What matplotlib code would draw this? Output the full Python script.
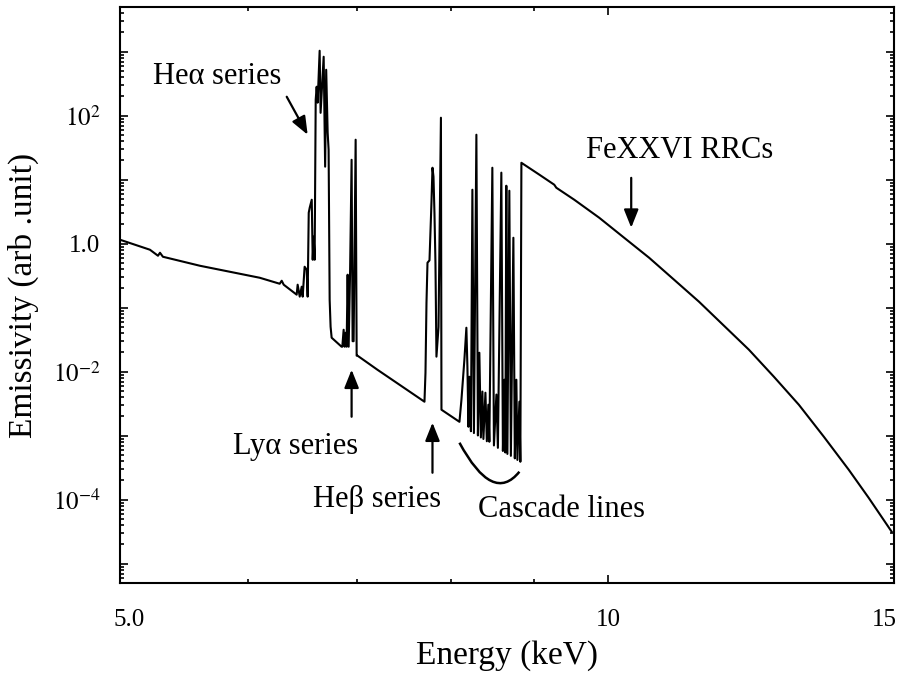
import numpy as np
import matplotlib
matplotlib.use("Agg")
import matplotlib.pyplot as plt
import matplotlib.transforms as mtransforms
from matplotlib.path import Path
from matplotlib.patches import PathPatch
from matplotlib.ticker import FixedLocator, NullFormatter, LogLocator

plt.rcParams['font.family'] = ['Liberation Serif', 'DejaVu Serif']
plt.rcParams['mathtext.fontset'] = 'stix'

# ---- spectrum vertices: energy (keV), emissivity (arb. unit) ----
# continuum below the He-like lines
e_low = [5.000, 5.217, 5.277, 5.292, 5.314, 5.600, 6.011, 6.097, 6.272, 6.290,
         6.308, 6.425, 6.434, 6.453, 6.471, 6.480, 6.498, 6.517, 6.526]
v_low = [1.155, 0.806, 0.649, 0.723, 0.626, 0.453, 0.316, 0.294, 0.237, 0.264,
         0.229, 0.160, 0.229, 0.149, 0.213, 0.149, 0.437, 0.392, 0.149]

# He-alpha complex
e_hea = [6.536, 6.545, 6.564, 6.573, 6.582, 6.591, 6.601, 6.610, 6.619, 6.638,
         6.647, 6.676, 6.690, 6.700, 6.714, 6.723, 6.733, 6.742, 6.752, 6.848]
v_hea = [3.05, 3.65, 4.87, 0.562, 1.29, 0.562, 178, 284, 160, 1036,
         111, 835, 16.0, 523, 54.2, 29.4, 0.133, 0.0505, 0.034, 0.0246]

# Ly-alpha complex and continuum up to He-beta
e_lya = [6.855, 6.868, 6.878, 6.890, 6.897, 6.907, 6.917, 6.931, 6.946, 6.956,
         6.966, 6.986, 6.996, 7.005, 7.207, 7.435, 7.703]
v_lya = [0.0246, 0.0453, 0.0246, 0.0407, 0.0246, 0.328, 0.0246, 0.352, 20.5, 0.03,
         0.03, 42.2, 0.0178, 0.0178, 0.0107, 0.00626, 0.0034]

# He-beta complex
e_heb = [7.714, 7.725, 7.736, 7.758, 7.780, 7.791, 7.802, 7.813, 7.824, 7.835,
         7.858, 7.885, 7.891, 8.095]
v_heb = [0.00964, 0.120, 0.505, 0.55, 4.5, 15.4, 11.2, 3.0, 0.5, 0.0172,
         0.05, 93.1, 0.00255, 0.00165]

# cascade lines
e_cas = [8.118, 8.152, 8.175, 8.187, 8.199, 8.210, 8.228, 8.245, 8.263, 8.292,
         8.310, 8.327, 8.345, 8.363, 8.375, 8.399, 8.416, 8.434, 8.446, 8.482,
         8.501, 8.531, 8.549, 8.591, 8.610, 8.628, 8.640, 8.652, 8.665, 8.689,
         8.708, 8.739, 8.757, 8.776, 8.789, 8.814, 8.826]
v_cas = [0.00365, 0.0154, 0.0487, 0.012, 0.00138, 0.00835, 0.001175, 6.98, 0.0011, 50.5,
         0.00101, 0.0198, 0.00094, 0.0049, 0.00089, 0.0047, 0.00082, 0.00305, 0.000805, 15.4,
         0.000705, 0.0044, 0.000647, 12.9, 0.000578, 0.0075, 0.000547, 8.06, 0.00052, 6.73,
         0.000485, 1.24, 0.000443, 0.0075, 0.000419, 0.0034, 0.000392]

# radiative recombination continuum
e_rrc = [8.839, 9.067, 9.261, 9.288, 9.528, 9.871, 10.227, 10.596, 10.978, 11.374,
         11.784, 12.208, 12.649, 13.105, 13.578, 14.067, 14.471, 14.951]
v_rrc = [18.4, 12.0, 8.36, 7.5, 4.87, 2.55, 1.24, 0.604, 0.274, 0.124,
         0.0523, 0.0221, 0.00835, 0.00305, 9.65e-4, 2.94e-4, 1.07e-4, 3.16e-5]

energy = np.array(e_low + e_hea + e_lya + e_heb + e_cas + e_rrc)
emis = np.array(v_low + v_hea + v_lya + v_heb + v_cas + v_rrc)

fig = plt.figure(figsize=(9.01, 6.79), dpi=100)
ax = fig.add_axes([120 / 901, 1 - 583 / 679, 774 / 901, 576 / 679])

ax.plot(energy, emis, color='black', lw=1.5)

ax.set_xscale('log')
ax.set_yscale('log')
ax.set_xlim(5, 15)
ax.set_ylim(5e-6, 5e3)

ax.xaxis.set_major_locator(FixedLocator([5, 10, 15]))
ax.xaxis.set_minor_locator(FixedLocator([6, 7, 8, 9]))
ax.set_xticklabels(['5.0', '10', '15'])
ax.xaxis.set_minor_formatter(NullFormatter())

ax.yaxis.set_major_locator(FixedLocator([10.0 ** k for k in range(-5, 4)]))
ax.yaxis.set_minor_locator(LogLocator(base=10, subs=np.arange(2, 10), numticks=20))
ax.yaxis.set_minor_formatter(NullFormatter())
ylabels = {1e2: r'$10^{2}$', 1.0: '1.0', 1e-2: r'$10^{-2}$', 1e-4: r'$10^{-4}$'}
ax.set_yticklabels([ylabels.get(10.0 ** k, '') for k in range(-5, 4)])

ax.tick_params(which='both', direction='in', top=True, right=True, width=1.2,
               labelsize=18)
ax.tick_params(which='major', length=6)
ax.tick_params(which='minor', length=3)
ax.tick_params(axis='x', which='major', pad=19)
ax.tick_params(axis='y', which='major', pad=14)
for sp in ax.spines.values():
    sp.set_linewidth(1.5)

# keep the end labels inside the figure
xt = ax.get_xticklabels()
xt[0].set_horizontalalignment('left')
xt[0].set_transform(xt[0].get_transform() +
                    mtransforms.ScaledTranslation(-7 / 100, 0, fig.dpi_scale_trans))
xt[2].set_horizontalalignment('right')
xt[2].set_transform(xt[2].get_transform() +
                    mtransforms.ScaledTranslation(3 / 100, 0, fig.dpi_scale_trans))

ax.set_xlabel('Energy (keV)', fontsize=24, labelpad=6)
ax.set_ylabel('Emissivity (arb .unit)', fontsize=24, labelpad=10)

# ---- annotations ----
arrow = dict(arrowstyle='-|>,head_length=0.5,head_width=0.2', color='black',
             lw=1.6, mutation_scale=22, shrinkA=0, shrinkB=0)
fs = 22

ax.text(5.239, 406, 'Heα series', fontsize=fs, ha='left', va='center')
ax.annotate('', xy=(6.526, 50.5), xytext=(6.335, 198), arrowprops=arrow)

ax.text(6.416, 6.73e-4, 'Lyα series', fontsize=fs, ha='center', va='center')
ax.annotate('', xy=(6.946, 0.01075), xytext=(6.946, 1.98e-3), arrowprops=arrow)

ax.text(7.197, 1e-4, 'Heβ series', fontsize=fs, ha='center', va='center')
ax.annotate('', xy=(7.791, 1.6e-3), xytext=(7.791, 2.64e-4), arrowprops=arrow)

ax.text(9.354, 6.98e-5, 'Cascade lines', fontsize=fs, ha='center', va='center')
bracket = Path([(8.095, 7.78e-4), (8.489, 8.36e-5), (8.814, 2.74e-4)],
               [Path.MOVETO, Path.CURVE3, Path.CURVE3])
ax.add_patch(PathPatch(bracket, fill=False, lw=1.8, edgecolor='black'))

ax.text(11.07, 28.4, 'FeXXVI RRCs', fontsize=fs, ha='center', va='center')
ax.annotate('', xy=(10.33, 1.78), xytext=(10.33, 10.7), arrowprops=arrow)

fig.savefig('out.png', dpi=100)
